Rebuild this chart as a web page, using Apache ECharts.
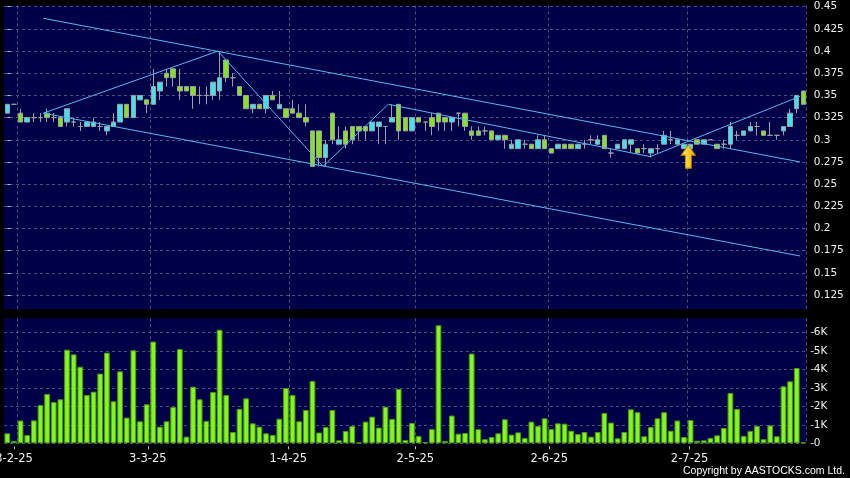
<!DOCTYPE html>
<html><head><meta charset="utf-8">
<script src="https://cdn.jsdelivr.net/npm/echarts@6/dist/echarts.min.js"></script>
<style>html,body{margin:0;padding:0;background:#000;}#c{width:850px;height:478px;}</style>
</head><body><div id="c"></div>
<script>
// ---- trading calendar (HK) ----
const startDate = '2025-01-27';
const endDate = '2025-07-25';
const holidays = ['2025-01-29','2025-01-30','2025-01-31','2025-04-04','2025-04-18','2025-04-21','2025-05-01','2025-05-05','2025-07-01'];
function buildDates() {
  const out = [];
  let d = new Date(startDate + 'T00:00:00Z');
  const end = new Date(endDate + 'T00:00:00Z');
  while (d <= end) {
    const w = d.getUTCDay();
    const iso = d.toISOString().slice(0, 10);
    if (w !== 0 && w !== 6 && !holidays.includes(iso)) {
      out.push(d.getUTCDate() + '-' + (d.getUTCMonth() + 1) + '-' + String(d.getUTCFullYear()).slice(2));
    }
    d = new Date(d.getTime() + 86400000);
  }
  return out;
}
const dates = buildDates();
const tickLabels = ['3-2-25','3-3-25','1-4-25','2-5-25','2-6-25','2-7-25'];

// ---- price data ----
const opens = [.33,.34,.33,.32,.325,.325,.33,.325,.325,.32,.32,.315,.315,.315,.315,.31,.315,.32,.34,.325,
.345,.345,.34,.355,.375,.38,.36,.36,.36,.35,.35,.35,.355,.39,.37,.36,.35,.335,.34,.335,
.35,.335,.335,.335,.33,.325,.31,.31,.28,.33,.295,.31,.315,.315,.315,.31,.315,.315,.32,.34,
.325,.31,.325,.32,.325,.33,.325,.32,.33,.33,.31,.31,.31,.31,.30,.305,.29,.29,.295,.295,
.29,.30,.29,.29,.295,.295,.29,.295,.30,.295,.305,.285,.29,.29,.295,.29,.29,.285,.29,.295,
.30,.295,.29,.29,.30,.295,.30,.295,.295,.295,.305,.305,.31,.315,.31,.305,.305,.31,.315,.335,.355];
const closes = [.34,.34,.32,.325,.325,.325,.325,.325,.315,.335,.32,.315,.32,.32,.315,.315,.32,.34,.325,.35,
.35,.34,.36,.365,.37,.37,.355,.355,.35,.35,.35,.365,.37,.37,.37,.35,.335,.34,.335,.35,
.345,.34,.325,.33,.325,.32,.27,.28,.295,.30,.30,.295,.30,.31,.31,.32,.32,.315,.325,.31,
.31,.325,.32,.32,.315,.32,.32,.325,.33,.315,.305,.305,.31,.30,.305,.30,.295,.30,.295,.29,
.30,.29,.285,.295,.29,.29,.295,.295,.30,.30,.29,.285,.295,.30,.30,.285,.29,.29,.29,.305,
.30,.30,.295,.295,.295,.30,.30,.29,.295,.315,.305,.31,.315,.315,.305,.305,.305,.315,.33,.35,.34];
const lows = [.33,.34,.32,.32,.32,.32,.32,.32,.315,.315,.315,.31,.315,.315,.31,.305,.315,.32,.325,.325,
.345,.33,.34,.345,.36,.36,.345,.355,.335,.34,.34,.345,.345,.365,.36,.35,.335,.33,.335,.33,
.345,.335,.325,.33,.325,.315,.27,.27,.27,.295,.295,.29,.295,.30,.30,.31,.295,.295,.32,.30,
.31,.31,.32,.31,.305,.31,.31,.31,.315,.31,.30,.305,.305,.30,.30,.29,.29,.29,.29,.29,
.29,.29,.285,.29,.29,.29,.29,.29,.295,.295,.29,.28,.29,.29,.285,.285,.285,.28,.285,.295,
.295,.295,.29,.29,.295,.295,.30,.29,.29,.29,.30,.305,.31,.305,.305,.305,.30,.305,.315,.33,.34];
const highs = [.34,.34,.335,.325,.33,.33,.335,.33,.325,.335,.325,.32,.32,.325,.32,.315,.33,.34,.34,.35,
.35,.345,.38,.365,.38,.38,.38,.36,.36,.36,.36,.365,.40,.39,.375,.36,.35,.34,.34,.35,
.355,.355,.335,.345,.34,.34,.31,.31,.30,.33,.315,.315,.315,.315,.315,.32,.32,.315,.34,.34,
.325,.325,.325,.32,.33,.33,.325,.325,.33,.33,.315,.315,.315,.31,.305,.305,.30,.30,.30,.295,
.305,.305,.29,.295,.295,.295,.295,.30,.305,.305,.305,.29,.295,.30,.30,.29,.295,.29,.295,.31,
.31,.30,.295,.295,.30,.30,.30,.295,.30,.32,.31,.31,.32,.32,.31,.32,.305,.315,.335,.35,.355];
// ---- volume (thousands) ----
const volumes = [.54,.13,1.23,.45,1.24,2.07,2.67,2.23,2.38,5.06,4.81,4.14,2.61,2.79,3.77,4.9,2.27,3.89,1.39,5.03,
1.19,2.11,5.5,.9,1.19,1.96,5.1,.36,3.06,2.38,1.21,2.77,6.14,2.61,.61,1.86,2.43,1.08,.9,.54,
.45,1.33,2.99,2.61,1.19,1.8,3.37,.58,.88,1.8,.16,.67,.94,.04,1.17,1.44,.85,1.98,1.32,2.94,
.18,1.1,.4,.07,.77,6.38,.13,1.5,.52,.56,4.85,.76,.22,.34,.54,1.3,.47,.59,.29,1.17,
.94,1.35,.77,1.08,1.06,.68,.5,.61,.36,.61,1.64,1.12,.27,.61,1.84,1.68,.38,.88,1.35,1.68,
.68,1.23,.34,1.26,.14,.16,.29,.43,.83,2.72,1.86,.4,.67,.94,.22,.97,.38,3.08,3.35,4.07,.05];

const priceTicks = [0.125,0.15,0.175,0.2,0.225,0.25,0.275,0.3,0.325,0.35,0.375,0.4,0.425,0.45];
const volTicks = [0,1,2,3,4,5,6];

// ---- drawn trend lines (x in trading-day index units) ----
const zigzag = [[5.42,0.33],[31.76,0.40],[47.6,0.27],[57.43,0.34],[96.9,0.281],[119.5,0.349]];
const upperChannel = [[5.42,0.437],[119.5,0.275]];
const lowerChannel = [[5.42,0.33],[119.5,0.169]];
const signal = [[102.65,0.281]];

const candleData = opens.map((o, i) => [o, closes[i], lows[i], highs[i]]);

const gridColor = '#4e4e80';
const labelColor = '#f0f0f0';
const lineColor = '#5ab8f0';
const isTick = (i) => tickLabels.includes(dates[i]);
const labelDates = dates.slice(1);
const isLabel = (i) => tickLabels.includes(labelDates[i]);

const chart = echarts.init(document.getElementById('c'), null, {renderer: 'canvas', width: 850, height: 478});
const option = {
  backgroundColor: '#000',
  animation: false,
  title: {
    text: 'Copyright by AASTOCKS.com Ltd.', right: 5, top: 466, padding: 0,
    textStyle: {color: '#fff', fontSize: 10.5, fontWeight: 'normal', fontFamily: 'Liberation Sans'}
  },
  grid: [
    {left: 4, right: 43.3, top: 5.5, height: 303.5, show: true, backgroundColor: '#000048', borderWidth: 0,
     containLabel: false, outerBoundsMode: 'none'},
    {left: 4, right: 43.3, top: 318.3, height: 125, show: true, backgroundColor: '#000048', borderWidth: 0,
     containLabel: false, outerBoundsMode: 'none'}
  ],
  xAxis: [
    {type: 'category', gridIndex: 0, data: dates, boundaryGap: true, position: 'bottom',
     axisLine: {show: false}, axisTick: {show: false}, axisLabel: {show: false},
     splitLine: {show: true, interval: isTick, lineStyle: {color: gridColor, type: [3, 3], width: 1}}},
    {type: 'category', gridIndex: 1, data: dates, boundaryGap: true, position: 'top',
     axisLine: {show: false}, axisTick: {show: false}, axisLabel: {show: false},
     splitLine: {show: true, interval: isTick, lineStyle: {color: gridColor, type: [3, 3], width: 1}}},
    {type: 'category', gridIndex: 1, data: labelDates, boundaryGap: true, position: 'bottom', offset: 3,
     axisLine: {show: false},
     axisTick: {show: true, alignWithLabel: true, interval: isLabel, length: 3, lineStyle: {color: '#c0c0c0'}},
     axisLabel: {show: true, interval: isLabel, margin: 7, color: labelColor, fontSize: 11.5, fontFamily: 'DejaVu Sans'},
     splitLine: {show: false}},
    {type: 'value', gridIndex: 0, min: -0.5, max: 120.5, show: false, position: 'top', splitLine: {show: false}}
  ],
  yAxis: [
    {type: 'value', gridIndex: 0, position: 'right', min: 0.1092, max: 0.4514, offset: 4,
     axisLine: {show: false},
     axisTick: {show: true, length: 3, customValues: priceTicks, lineStyle: {color: '#c0c0c0'}},
     axisLabel: {customValues: priceTicks, margin: 3, color: labelColor, fontSize: 10.5, fontFamily: 'DejaVu Sans',
                 formatter: (v) => String(v)},
     splitLine: {show: true, lineStyle: {color: gridColor, type: [3, 3], width: 1}}},
    {type: 'value', gridIndex: 1, position: 'right', min: 0, max: 6.757, offset: 4,
     axisLine: {show: false},
     axisTick: {show: true, length: 3, customValues: volTicks, lineStyle: {color: '#c0c0c0'}},
     axisLabel: {customValues: volTicks, margin: 3, color: labelColor, fontSize: 10.5, fontFamily: 'DejaVu Sans',
                 formatter: (v) => v === 0 ? '0' : v + 'K'},
     splitLine: {show: true, lineStyle: {color: gridColor, type: [3, 3], width: 1}}}
  ],
  series: [
    {type: 'candlestick', xAxisIndex: 0, yAxisIndex: 0, data: candleData, barWidth: 5,
     itemStyle: {color: '#3de3f2', color0: '#84e41c', borderColor: '#a0a0a0', borderColor0: '#a0a0a0',
                 borderColorDoji: '#a0a0a0', borderWidth: 1}},
    {type: 'bar', xAxisIndex: 1, yAxisIndex: 1, data: volumes, barWidth: '86%',
     itemStyle: {color: '#84f51e', borderColor: '#4c9a10', borderWidth: 1}},
    {type: 'line', xAxisIndex: 3, yAxisIndex: 0, data: zigzag, symbol: 'none', silent: true,
     lineStyle: {color: lineColor, width: 1}},
    {type: 'line', xAxisIndex: 3, yAxisIndex: 0, data: upperChannel, symbol: 'none', silent: true,
     lineStyle: {color: lineColor, width: 1}},
    {type: 'line', xAxisIndex: 3, yAxisIndex: 0, data: lowerChannel, symbol: 'none', silent: true,
     lineStyle: {color: lineColor, width: 1}},
    {type: 'scatter', xAxisIndex: 3, yAxisIndex: 0, data: signal,
     symbol: 'path://M7,0 L14,10 L10,10 L10,23 L4,23 L4,10 L0,10 Z', symbolSize: [14, 23],
     itemStyle: {opacity: 1, color: new echarts.graphic.LinearGradient(0, 0, 1, 0, [
        {offset: 0, color: '#fff6b0'}, {offset: 0.35, color: '#ffd83a'}, {offset: 1, color: '#f0a800'}]),
        borderColor: '#c08a00', borderWidth: 1}}
  ]
};
chart.setOption(option);
</script>
</body></html>
